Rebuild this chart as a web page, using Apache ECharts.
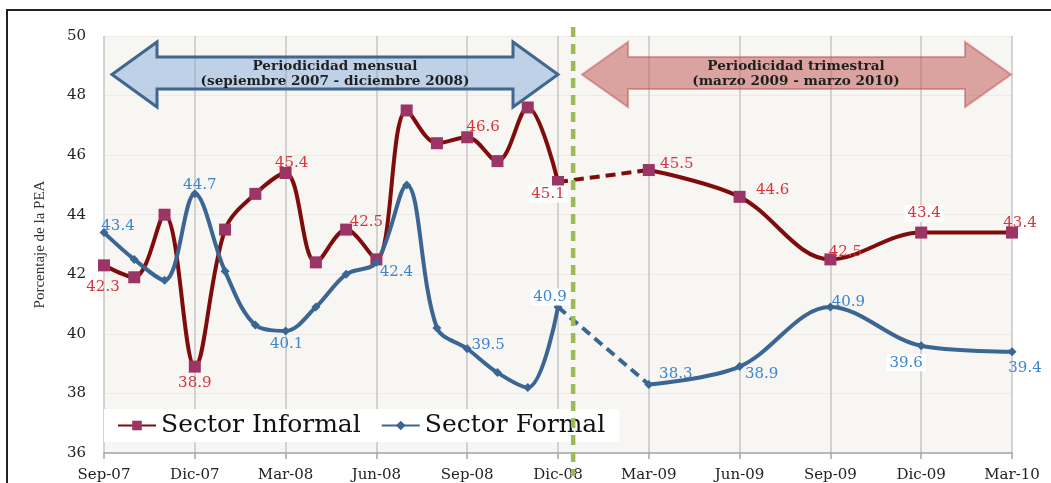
<!DOCTYPE html>
<html>
<head>
<meta charset="utf-8">
<script src="https://cdn.jsdelivr.net/npm/echarts@6/dist/echarts.min.js"></script>
<style>
  html, body { margin: 0; padding: 0; background: #fff; }
  #chart { width: 1051px; height: 483px; }
</style>
</head>
<body>
<div id="chart"></div>
<script>
  // eje x: un punto por mes, etiquetas trimestrales
  const xLabels = ['Sep-07', 'Dic-07', 'Mar-08', 'Jun-08', 'Sep-08', 'Dic-08',
    'Mar-09', 'Jun-09', 'Sep-09', 'Dic-09', 'Mar-10'];
  const monthlyPos = [0, 1, 2, 3, 4, 5, 6, 7, 8, 9, 10, 11, 12, 13, 14, 15];
  const quarterlyPos = [18, 21, 24, 27, 30];

  const informalMonthly = [42.3, 41.9, 44.0, 38.9, 43.5, 44.7, 45.4, 42.4,
    43.5, 42.5, 47.5, 46.4, 46.6, 45.8, 47.6, 45.1];
  const informalQuarterly = [45.5, 44.6, 42.5, 43.4, 43.4];
  const formalMonthly = [43.4, 42.5, 41.8, 44.7, 42.1, 40.3, 40.1, 40.9,
    42.0, 42.4, 45.0, 40.2, 39.5, 38.7, 38.2, 40.9];
  const formalQuarterly = [38.3, 38.9, 40.9, 39.6, 39.4];

  const yTicks = { min: 36, max: 50, interval: 2 };

  // etiquetas visibles: posicion -> [dx, dy, fondo blanco]
  const informalLabels = {
    0: [-1, 22], 3: [0, 16], 6: [6, -10], 9: [-10, -37], 12: [16, -10],
    15: [-10, 12, true], 18: [28, -6], 21: [33, -7], 24: [15, -7],
    27: [3, -19, true], 30: [8, -9],
  };
  const formalLabels = {
    0: [14, -6], 3: [5, -9], 6: [1, 13], 9: [20, 10], 12: [21, -4],
    15: [-8, -10, true], 18: [27, -10], 21: [22, 7], 24: [18, -5],
    27: [-15, 17, true], 30: [13, 16],
  };

  const RED = '#7f0c0c';
  const RED_MARK = '#9b3565';
  const RED_TXT = '#d9333d';
  const BLUE = '#3b6693';
  const BLUE_TXT = '#3d86cf';

  function points(pos, vals, labels, color) {
    return vals.map((v, i) => {
      const item = { value: [pos[i], v] };
      const l = labels && labels[pos[i]];
      if (l) {
        item.label = {
          show: true,
          position: 'inside',
          offset: [l[0], l[1]],
          color: color,
          backgroundColor: l[2] ? '#fff' : 'transparent',
          padding: [1, 3],
        };
      }
      return item;
    });
  }

  const labelBase = {
    show: false,
    fontFamily: 'DejaVu Serif',
    fontSize: 15,
    formatter: (p) => p.value[1].toFixed(1),
  };

  function sector(name, monthly, quarterly, labels, lineColor, markColor, txtColor, symbol, symbolSize) {
    const solid = {
      name: name,
      type: 'line',
      smooth: 0.35,
      symbol: symbol,
      symbolSize: symbolSize,
      itemStyle: { color: markColor },
      lineStyle: { color: lineColor, width: 4 },
      label: labelBase,
    };
    return [
      Object.assign({}, solid, { data: points(monthlyPos, monthly, labels, txtColor) }),
      {
        name: name,
        type: 'line',
        symbol: 'none',
        lineStyle: { color: lineColor, width: 4, type: [10, 6] },
        data: [[monthlyPos[monthlyPos.length - 1], monthly[monthly.length - 1]],
          [quarterlyPos[0], quarterly[0]]],
      },
      Object.assign({}, solid, { data: points(quarterlyPos, quarterly, labels, txtColor) }),
    ];
  }

  function arrowPoints(x1, x2, yTop, yBot, sTop, sBot, head) {
    const yMid = (yTop + yBot) / 2;
    return [
      [x1, yMid], [x1 + head, yTop], [x1 + head, sTop], [x2 - head, sTop],
      [x2 - head, yTop], [x2, yMid], [x2 - head, yBot], [x2 - head, sBot],
      [x1 + head, sBot], [x1 + head, yBot],
    ];
  }

  const chart = echarts.init(document.getElementById('chart'));
  chart.setOption({
    animation: false,
    backgroundColor: '#fff',
    grid: {
      left: 104, right: 39, top: 36, bottom: 30,
      show: true, backgroundColor: '#f7f6f3', borderWidth: 0,
    },
    legend: {
      data: ['Sector Informal', 'Sector Formal'],
      left: 104, top: 409,
      padding: [4, 14, 4, 13],
      backgroundColor: '#fff',
      itemGap: 20, itemWidth: 38, itemHeight: 12,
      textStyle: { fontFamily: 'DejaVu Serif', fontSize: 25, color: '#111' },
    },
    xAxis: {
      type: 'value',
      min: 0, max: 30, interval: 3,
      axisLine: { show: true, lineStyle: { color: '#a5a5a5', width: 1.5 } },
      axisTick: { show: true, length: 6, lineStyle: { color: '#a5a5a5', width: 1.5 } },
      splitLine: { show: true, lineStyle: { color: '#c6c6c6', width: 1.5 } },
      axisLabel: {
        margin: 15,
        fontFamily: 'DejaVu Serif', fontSize: 15, color: '#222',
        formatter: (v) => xLabels[v / 3],
      },
    },
    yAxis: {
      type: 'value',
      min: yTicks.min, max: yTicks.max, interval: yTicks.interval,
      name: 'Porcentaje de la PEA',
      nameLocation: 'middle',
      nameGap: 56,
      nameTextStyle: { fontFamily: 'Liberation Serif', fontSize: 15, color: '#333' },
      axisLine: { show: false },
      axisTick: { show: false },
      splitLine: { show: true, lineStyle: { color: '#ebeae6', width: 1 } },
      axisLabel: { margin: 18, fontFamily: 'DejaVu Serif', fontSize: 15, color: '#222' },
    },
    series: [].concat(
      sector('Sector Informal', informalMonthly, informalQuarterly, informalLabels,
        RED, RED_MARK, RED_TXT, 'rect', 12),
      sector('Sector Formal', formalMonthly, formalQuarterly, formalLabels,
        BLUE, BLUE, BLUE_TXT, 'diamond', 9)
    ),
  });

  // anotaciones: flechas de periodicidad, separador y marco
  const splitX = chart.convertToPixel({ xAxisIndex: 0 }, 15.5);
  const arrowText = {
    fontFamily: 'DejaVu Serif', fontWeight: 'bold', fontSize: 13.6,
    lineHeight: 15, fill: '#1f1f1f', align: 'center', verticalAlign: 'middle',
  };
  chart.setOption({
    graphic: [
      {
        type: 'rect', silent: true, z: 0,
        shape: { x: 7, y: 10, width: 1100, height: 600 },
        style: { fill: 'none', stroke: '#222', lineWidth: 2 },
      },
      {
        type: 'polygon', silent: true, z: 1,
        shape: { points: arrowPoints(112, 558, 42, 107, 57, 89, 45) },
        style: { fill: 'rgba(120,165,215,0.45)', stroke: '#41668f', lineWidth: 3 },
      },
      {
        type: 'text', silent: true, z: 3, x: 335, y: 73.5,
        style: Object.assign({ text: 'Periodicidad mensual\n(sepiembre 2007 - diciembre 2008)' }, arrowText),
      },
      {
        type: 'polygon', silent: true, z: 1,
        shape: { points: arrowPoints(582, 1011, 42, 107, 57, 89, 46) },
        style: { fill: 'rgba(192,80,77,0.5)', stroke: 'rgba(192,80,77,0.5)', lineWidth: 2 },
      },
      {
        type: 'text', silent: true, z: 3, x: 796, y: 73.5,
        style: Object.assign({ text: 'Periodicidad trimestral\n(marzo 2009 - marzo 2010)' }, arrowText),
      },
      {
        type: 'line', silent: true, z: 100,
        shape: { x1: splitX, y1: 27, x2: splitX, y2: 476 },
        style: { stroke: '#9bbb59', lineWidth: 4.5, lineDash: [10, 7] },
      },
    ],
  });
</script>
</body>
</html>
